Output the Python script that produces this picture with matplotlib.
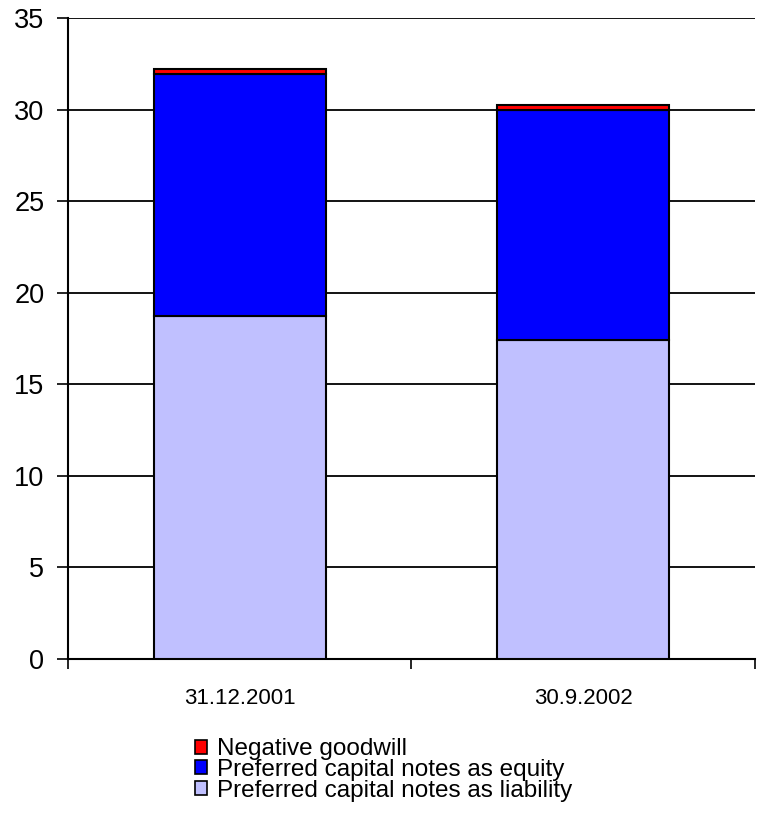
import matplotlib
matplotlib.use('Agg')
import matplotlib.pyplot as plt
import numpy as np
from matplotlib.patches import Patch

plt.rcParams['font.family'] = ['Liberation Sans', 'DejaVu Sans']

# stacked amounts per reporting date
dates = ['31.12.2001', '30.9.2002']
liability = [18.7, 17.4]
equity = [13.25, 12.6]
goodwill = [0.27, 0.25]

series_names = ['Preferred capital notes as liability',
                'Preferred capital notes as equity',
                'Negative goodwill']
colours = ['#c0c0ff', '#0000ff', '#ff0000']

fig = plt.figure(figsize=(7.57, 8.19), dpi=100)
ax = fig.add_axes([0.0898, 0.1954, 0.9075, 0.7827])

x = np.arange(len(dates))
bottom = np.zeros(len(dates))
for vals, col in zip([liability, equity, goodwill], colours):
    ax.bar(x, vals, width=0.5, bottom=bottom, color=col,
           edgecolor='black', linewidth=1.5, zorder=3)
    bottom += np.array(vals)

ax.set_xlim(-0.5, len(dates) - 0.5)
ax.set_ylim(0, 35)
ax.set_yticks(range(0, 36, 5))
ax.tick_params(axis='y', labelsize=19.5, length=8, width=1.2, direction='out', pad=9)
ax.yaxis.grid(True, color='black', linewidth=1.3, zorder=0)

# category ticks sit between the bars, labels under each bar
ax.set_xticks([-0.5, 0.5, 1.5])
ax.set_xticklabels([])
ax.set_xticks(x, minor=True)
ax.set_xticklabels(dates, minor=True, fontsize=16)
ax.tick_params(axis='x', which='major', length=7, width=1.2, direction='out')
ax.tick_params(axis='x', which='minor', length=0, pad=21)

for side in ['top', 'right']:
    ax.spines[side].set_visible(False)
ax.spines['left'].set_linewidth(1.5)
ax.spines['bottom'].set_linewidth(1.5)

handles = [Patch(facecolor=c, edgecolor='black', linewidth=1.2, label=n)
           for c, n in zip(colours, series_names)][::-1]
fig.legend(handles=handles, loc='upper left', bbox_to_anchor=(0.245, 0.1105),
           frameon=False, fontsize=17.5, handlelength=0.5, handleheight=0.5,
           handletextpad=0.4, labelspacing=-0.05, borderaxespad=0)

fig.savefig('out.png', dpi=100)
